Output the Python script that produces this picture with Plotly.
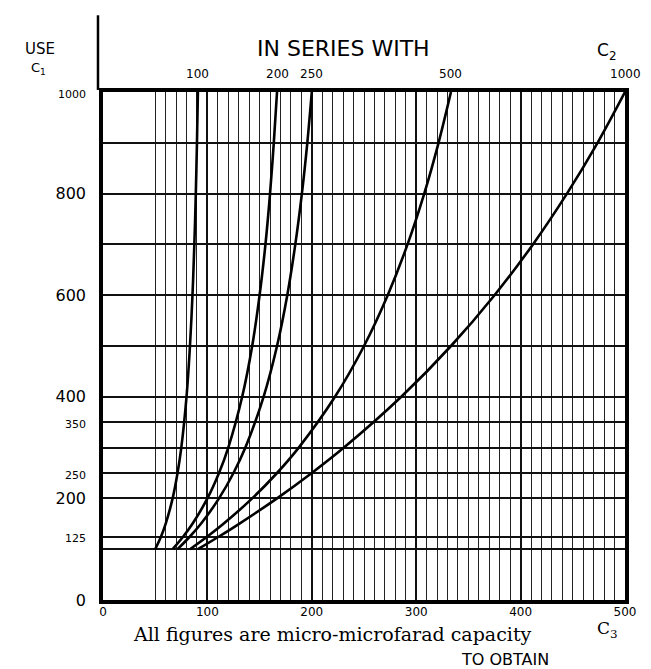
import plotly.graph_objects as go

# C1 values (y) at which each curve was read
c1 = [100, 125, 150, 200, 250, 300, 400, 500, 600, 700, 800, 900, 1000]
# C3 values (x) read for each series capacitor C2
c3_100 = [50.0, 55.6, 60.0, 66.7, 71.4, 75.0, 80.0, 83.3, 85.7, 87.5, 88.9, 90.0, 90.9]
c3_200 = [66.7, 76.9, 85.7, 100.0, 111.1, 120.0, 133.3, 142.9, 150.0, 155.6, 160.0, 163.6, 166.7]
c3_250 = [71.4, 83.3, 93.8, 111.1, 125.0, 136.4, 153.8, 166.7, 176.5, 184.2, 190.5, 195.7, 200.0]
c3_500 = [83.3, 100.0, 115.4, 142.9, 166.7, 187.5, 222.2, 250.0, 272.7, 291.7, 307.7, 321.4, 333.3]
c3_1000 = [90.9, 111.1, 130.4, 166.7, 200.0, 230.8, 285.7, 333.3, 375.0, 411.8, 444.4, 473.7, 500.0]
series = [("100", c3_100), ("200", c3_200), ("250", c3_250), ("500", c3_500), ("1000", c3_1000)]

x_ticks = [0, 100, 200, 300, 400, 500]
x_ticktext = ["0", "100", "200", "300", "400", "500"]
x_minor = [50, 60, 70, 80, 90, 110, 120, 130, 140, 150, 160, 170, 180, 190,
           210, 220, 230, 240, 250, 260, 270, 280, 290, 310, 320, 330, 340, 350,
           360, 370, 380, 390, 410, 420, 430, 440, 450, 460, 470, 480, 490]
y_ticks = [0, 125, 200, 250, 350, 400, 600, 800, 1000]
y_ticktext = ["0", "125", "200", "250", "350", "400", "600", "800", "1000"]
y_small = {"125", "250", "350", "1000"}
y_minor = [100, 300, 500, 700, 900]

SANS = "DejaVu Sans"
SERIF = "DejaVu Serif"

fig = go.Figure()
for name, xs in series:
    fig.add_trace(go.Scatter(x=xs, y=c1, mode="lines", name=name,
                             line=dict(color="#000", width=2.6, shape="spline"),
                             showlegend=False, hoverinfo="skip"))

yt = []
for t in y_ticktext:
    if t in y_small:
        yt.append(f"<span style='font-size:11px'>{t}</span>")
    else:
        yt.append(t)

fig.update_layout(
    width=651, height=669,
    margin=dict(l=95, r=34, t=84, b=77),
    paper_bgcolor="white", plot_bgcolor="white",
    font=dict(family=SANS, color="#000"),
    xaxis=dict(range=[0, 500], tickmode="array", tickvals=x_ticks, ticktext=x_ticktext,
               showgrid=True, gridcolor="#111", gridwidth=2.4,
               minor=dict(tickmode="array", tickvals=x_minor, showgrid=True,
                          gridcolor="#222", gridwidth=1.4, ticks=""),
               showline=True, linecolor="#000", linewidth=3.5, mirror=True,
               ticks="", zeroline=False, tickfont=dict(size=12),
               ticklabelstandoff=-2, fixedrange=True),
    yaxis=dict(range=[0, 1000], tickmode="array", tickvals=y_ticks, ticktext=yt,
               showgrid=True, gridcolor="#111", gridwidth=1.8,
               minor=dict(tickmode="array", tickvals=y_minor, showgrid=True,
                          gridcolor="#111", gridwidth=1.8, ticks=""),
               showline=True, linecolor="#000", linewidth=3.5, mirror=True,
               ticks="", zeroline=False, tickfont=dict(size=16),
               ticklabelstandoff=10, fixedrange=True),
)

ann = []
# Curve labels above the top border, centred on each curve's end
for name, xs in series:
    ann.append(dict(x=xs[-1], y=1.035, xref="x", yref="paper", text=name,
                    showarrow=False, font=dict(size=12, family=SANS),
                    xanchor="center", yanchor="middle"))
ann += [
    dict(x=-0.121, y=1.085, xref="paper", yref="paper", text="USE", showarrow=False,
         font=dict(size=15, family=SANS), xanchor="center", yanchor="middle"),
    dict(x=-0.123, y=1.047, xref="paper", yref="paper", text="C<sub>1</sub>", showarrow=False,
         font=dict(size=13, family=SANS), xanchor="center", yanchor="middle"),
    dict(x=0.46, y=1.085, xref="paper", yref="paper", text="IN SERIES WITH", showarrow=False,
         font=dict(size=22, family=SANS), xanchor="center", yanchor="middle"),
    dict(x=0.965, y=1.080, xref="paper", yref="paper", text="C<sub>2</sub>", showarrow=False,
         font=dict(size=17, family=SANS), xanchor="center", yanchor="middle"),
    dict(x=0.0536, y=-0.066, xref="paper", yref="paper",
         text="All figures are micro-microfarad capacity", showarrow=False,
         font=dict(size=19, family=SERIF), xanchor="left", yanchor="middle"),
    dict(x=0.967, y=-0.058, xref="paper", yref="paper", text="C<sub>3</sub>", showarrow=False,
         font=dict(size=17, family=SERIF), xanchor="center", yanchor="middle"),
    dict(x=0.77, y=-0.118, xref="paper", yref="paper", text="TO OBTAIN", showarrow=False,
         font=dict(size=16, family=SANS), xanchor="center", yanchor="middle"),
]
fig.update_layout(annotations=ann)

# separator stroke at upper left
fig.add_shape(type="line", xref="paper", yref="paper", x0=-0.0096, x1=-0.0096,
              y0=1.004, y1=1.151, line=dict(color="#000", width=2.5))

fig.write_html("out.html")
